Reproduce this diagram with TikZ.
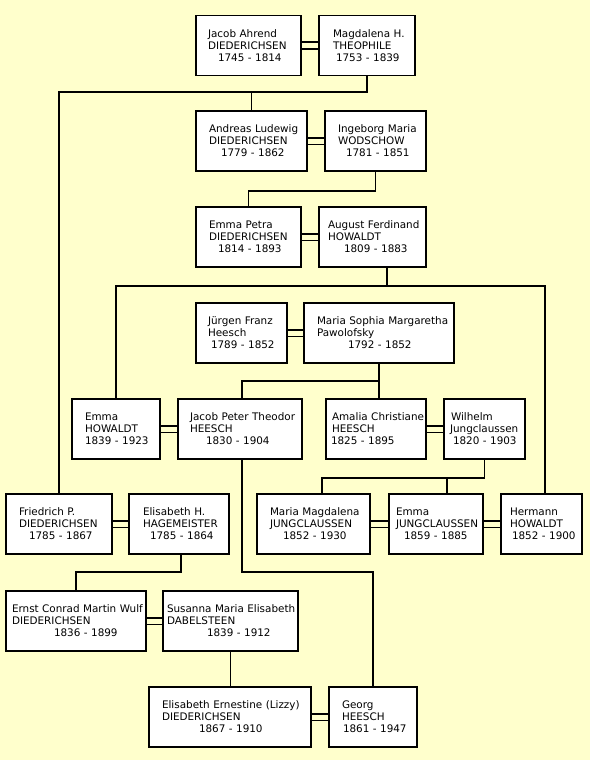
\documentclass[tikz,border=0pt]{standalone}
\usepackage{fontspec}
\setmainfont{DejaVu Sans}
\usetikzlibrary{positioning}
\definecolor{paper}{HTML}{FFFFCC}
\newcommand{\ind}[1]{\hspace*{#1pt}}

\begin{document}
\begin{tikzpicture}[x=1pt,y=-1pt,
    person/.style={draw=black,fill=white,line width=1.6pt,minimum height=60pt,
      inner sep=0pt,align=left,font=\fontsize{10.4}{12}\selectfont},
    link/.style={line width=1.6pt},
    wed/.style={line width=1.6pt,double=paper,double distance=5pt}]
  \fill[paper] (0,0) rectangle (590,760);
  \useasboundingbox (0,0) rectangle (590,760);
  % generation 1
  \node[person,text width=105pt] (jacob) at (248.5,45.5)
    {\ind{12}Jacob Ahrend\\\ind{12}DIEDERICHSEN\\\ind{22}1745 - 1814};
  \node[person,text width=96pt] (magdalena) at (367,45.5)
    {\ind{14}Magdalena H.\\\ind{14}THEOPHILE\\\ind{17}1753 - 1839};
  % generation 2
  \node[person,text width=111pt] (andreas) at (251.5,141)
    {\ind{13}Andreas Ludewig\\\ind{13}DIEDERICHSEN\\\ind{25}1779 - 1862};
  \node[person,text width=101pt] (ingeborg) at (375.5,141)
    {\ind{13}Ingeborg Maria\\\ind{13}WODSCHOW\\\ind{21}1781 - 1851};
  % generation 3
  \node[person,text width=105pt] (emmapetra) at (248.5,237)
    {\ind{13}Emma Petra\\\ind{13}DIEDERICHSEN\\\ind{22}1814 - 1893};
  \node[person,text width=107pt] (august) at (372.5,237)
    {\ind{9}August Ferdinand\\\ind{9}HOWALDT\\\ind{25}1809 - 1883};
  % Heesch parents
  \node[person,text width=91pt] (juergen) at (241.5,333)
    {\ind{12}Jürgen Franz\\\ind{12}Heesch\\\ind{15}1789 - 1852};
  \node[person,text width=150pt] (mariasophia) at (379,333)
    {\ind{13}Maria Sophia Margaretha\\\ind{13}Pawolofsky\\\ind{44}1792 - 1852};
  % generation 4
  \node[person,text width=88pt] (emmahowaldt) at (116,429)
    {\ind{13}Emma\\\ind{13}HOWALDT\\\ind{13}1839 - 1923};
  \node[person,text width=124pt] (jacobpeter) at (240,429)
    {\ind{12}Jacob Peter Theodor\\\ind{12}HEESCH\\\ind{28}1830 - 1904};
  \node[person,text width=100pt] (amalia) at (376,429)
    {\ind{6}Amalia Christiane\\\ind{6}HEESCH\\\ind{5}1825 - 1895};
  \node[person,text width=81pt] (wilhelm) at (484.5,429)
    {\ind{7}Wilhelm\\\ind{6}Jungclaussen\\\ind{9}1820 - 1903};
  % generation 5
  \node[person,text width=106pt] (friedrich) at (59,524)
    {\ind{13}Friedrich P.\\\ind{13}DIEDERICHSEN\\\ind{23}1785 - 1867};
  \node[person,text width=100pt] (elisabethh) at (179,524)
    {\ind{14}Elisabeth H.\\\ind{14}HAGEMEISTER\\\ind{21}1785 - 1864};
  \node[person,text width=113pt] (mariamagdalena) at (313.5,524)
    {\ind{13}Maria Magdalena\\\ind{13}JUNGCLAUSSEN\\\ind{26}1852 - 1930};
  \node[person,text width=94pt] (emmaj) at (436,524)
    {\ind{7}Emma\\\ind{7}JUNGCLAUSSEN\\\ind{15}1859 - 1885};
  \node[person,text width=81pt] (hermann) at (541.5,524)
    {\ind{9}Hermann\\\ind{9}HOWALDT\\\ind{11}1852 - 1900};
  % generation 6
  \node[person,text width=140pt] (ernst) at (76,621)
    {\ind{6}Ernst Conrad Martin Wulf\\\ind{6}DIEDERICHSEN\\\ind{48}1836 - 1899};
  \node[person,text width=135pt] (susanna) at (230.5,621)
    {\ind{4}Susanna Maria Elisabeth\\\ind{4}DABELSTEEN\\\ind{44}1839 - 1912};
  % generation 7
  \node[person,text width=162pt] (elisabethe) at (230,717)
    {\ind{13}Elisabeth Ernestine (Lizzy)\\\ind{13}DIEDERICHSEN\\\ind{50}1867 - 1910};
  \node[person,text width=88pt] (georg) at (373,717)
    {\ind{13}Georg\\\ind{13}HEESCH\\\ind{14}1861 - 1947};
  % marriages
  \draw[wed] (jacob) -- (magdalena);
  \draw[wed] (andreas) -- (ingeborg);
  \draw[wed] (emmapetra) -- (august);
  \draw[wed] (juergen) -- (mariasophia);
  \draw[wed] (emmahowaldt) -- (jacobpeter);
  \draw[wed] (amalia) -- (wilhelm);
  \draw[wed] (friedrich) -- (elisabethh);
  \draw[wed] (mariamagdalena) -- (emmaj);
  \draw[wed] (emmaj) -- (hermann);
  \draw[wed] (ernst) -- (susanna);
  \draw[wed] (elisabethe) -- (georg);
  % descent lines
  \coordinate (bar1) at (0,92);
  \coordinate (bar2) at (0,191);
  \coordinate (bar3) at (0,286);
  \coordinate (bar4) at (0,381);
  \coordinate (bar5) at (0,478);
  \coordinate (bar6) at (0,572);
  \coordinate (augustdrop) at ([xshift=14.5pt]august.south);
  \coordinate (hermanntop) at ([xshift=3.5pt]hermann.north);
  \coordinate (jptop) at ([xshift=2pt]jacobpeter.north);
  \coordinate (jpbot) at ([xshift=2pt]jacobpeter.south);
  \coordinate (ehdrop) at ([xshift=2pt]elisabethh.south);
  \coordinate (mmtop) at ([xshift=8.5pt]mariamagdalena.north);
  \coordinate (emtop) at ([xshift=11pt]emmaj.north);
  \draw[link] (magdalena.south) -- (magdalena.south |- bar1) -| (friedrich.north);
  \draw[link] (andreas.north) -- (andreas.north |- bar1);
  \draw[link] (ingeborg.south) -- (ingeborg.south |- bar2) -| (emmapetra.north);
  \draw[link] (emmahowaldt.north) |- (hermanntop |- bar3) -- (hermanntop);
  \draw[link] (augustdrop) -- (augustdrop |- bar3);
  \draw[link] (mariasophia.south) -- (mariasophia.south |- amalia.north);
  \draw[link] (mariasophia.south |- bar4) -| (jptop);
  \draw[link] (wilhelm.south) -- (wilhelm.south |- bar5) -| (mmtop);
  \draw[link] (emtop) -- (emtop |- bar5);
  \draw[link] (jpbot) -- (jpbot |- bar6) -| (georg.north);
  \draw[link] (ehdrop) -- (ehdrop |- bar6) -| (ernst.north);
  \draw[link] (susanna.south) -- (susanna.south |- elisabethe.north);
\end{tikzpicture}
\end{document}
